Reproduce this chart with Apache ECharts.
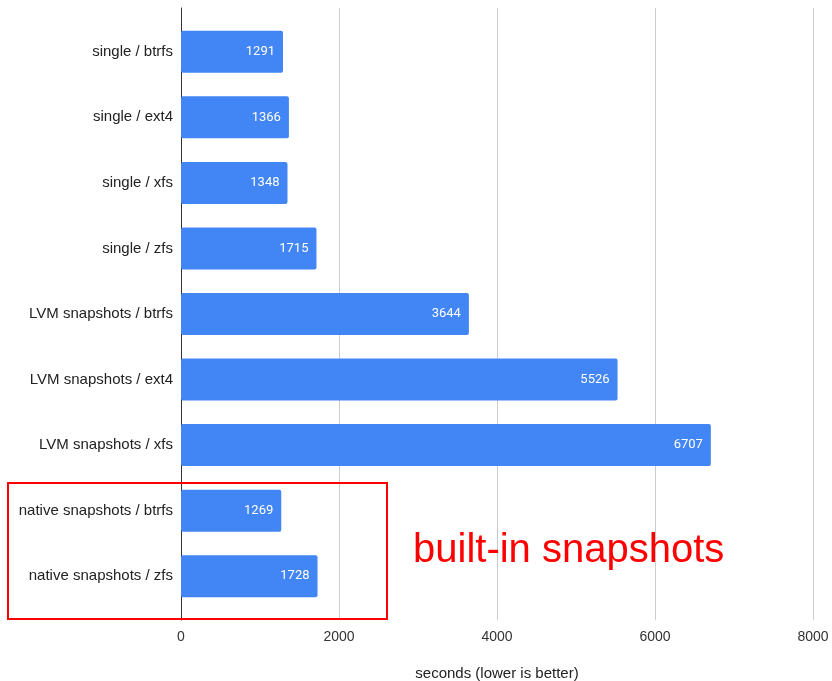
<!DOCTYPE html>
<html>
<head>
<meta charset="utf-8">
<script src="https://cdn.jsdelivr.net/npm/echarts@6/dist/echarts.min.js"></script>
<style>
  html, body { margin: 0; padding: 0; background: #fff; }
  #chart { width: 832px; height: 681px; }
</style>
</head>
<body>
<div id="chart"></div>
<script>
// Benchmark run times per setup
const categories = [
  'single / btrfs',
  'single / ext4',
  'single / xfs',
  'single / zfs',
  'LVM snapshots / btrfs',
  'LVM snapshots / ext4',
  'LVM snapshots / xfs',
  'native snapshots / btrfs',
  'native snapshots / zfs'
];
const seconds = [1291, 1366, 1348, 1715, 3644, 5526, 6707, 1269, 1728];
const xTicks = [0, 2000, 4000, 6000, 8000];

const font = 'Arial, "Liberation Sans", sans-serif';
const chart = echarts.init(document.getElementById('chart'));

chart.setOption({
  animation: false,
  grid: [
    // background grid: gridlines, x labels, zero line
    { left: 181, right: 19, top: 8, bottom: 61, outerBoundsMode: 'none', containLabel: false },
    // bars
    { left: 181, right: 19, top: 19, bottom: 72, outerBoundsMode: 'none', containLabel: false }
  ],
  xAxis: [
    {
      gridIndex: 0,
      type: 'value',
      min: xTicks[0],
      max: xTicks[xTicks.length - 1],
      interval: 2000,
      name: 'seconds (lower is better)',
      nameLocation: 'middle',
      nameGap: 46,
      nameTextStyle: { color: '#222', fontSize: 15, fontFamily: font },
      axisLine: { show: false },
      axisTick: { show: false },
      axisLabel: {
        color: '#333',
        fontSize: 14,
        fontFamily: font,
        margin: 10,
        formatter: v => String(v)
      },
      splitLine: { show: true, lineStyle: { color: '#cccccc', width: 1 } }
    },
    {
      gridIndex: 1,
      type: 'value',
      min: xTicks[0],
      max: xTicks[xTicks.length - 1],
      show: false
    }
  ],
  yAxis: [
    {
      gridIndex: 0,
      type: 'value',
      min: 0,
      max: 1,
      axisLine: { show: true, lineStyle: { color: '#333', width: 1 } },
      axisTick: { show: false },
      axisLabel: { show: false },
      splitLine: { show: false }
    },
    {
      gridIndex: 1,
      type: 'category',
      data: categories,
      inverse: true,
      axisLine: { show: false },
      axisTick: { show: false },
      axisLabel: { color: '#222', fontSize: 15, fontFamily: font, margin: 8 },
      splitLine: { show: false }
    }
  ],
  series: [
    {
      type: 'bar',
      xAxisIndex: 1,
      yAxisIndex: 1,
      data: seconds,
      barWidth: 42,
      itemStyle: { color: '#4285F4', borderRadius: 2 },
      label: {
        show: true,
        position: 'insideRight',
        distance: 8,
        color: '#ffffff',
        fontSize: 13,
        fontFamily: 'Roboto, Arial, sans-serif'
      }
    }
  ],
  graphic: [
    {
      type: 'rect',
      shape: { x: 8, y: 483, width: 379, height: 136 },
      style: { fill: 'none', stroke: '#ff0000', lineWidth: 2 },
      z: 10
    },
    {
      type: 'text',
      x: 413,
      y: 551,
      style: {
        text: 'built-in snapshots',
        fill: '#ff0000',
        font: '40px Arial, "Liberation Sans", sans-serif',
        textVerticalAlign: 'middle'
      },
      z: 10
    }
  ]
});
</script>
</body>
</html>
